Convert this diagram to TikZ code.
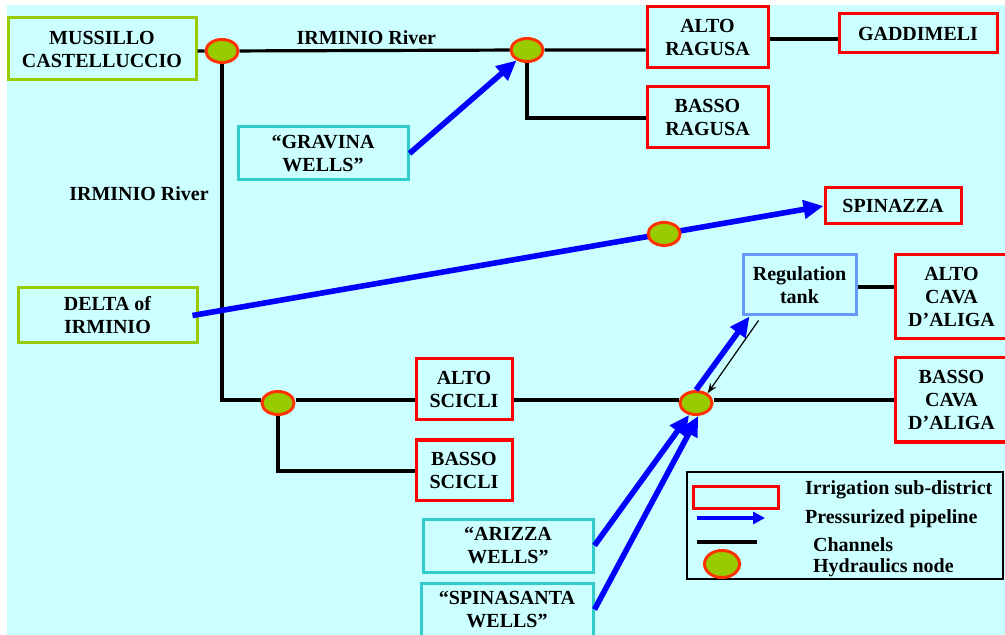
\documentclass[tikz,border=0pt]{standalone}
\usepackage{fontspec}
\setmainfont{Liberation Serif}
\usetikzlibrary{shapes.geometric,arrows.meta,calc}
\definecolor{bgcyan}{HTML}{CCFFFF}
\definecolor{lgreen}{HTML}{99CC00}
\definecolor{nodered}{HTML}{FF3300}
\definecolor{wellcyan}{HTML}{33CCCC}
\definecolor{tankblue}{HTML}{6699FF}

\begin{document}
\begin{tikzpicture}[x=0.5pt,y=-0.5pt,
	font=\fontsize{10}{11.5}\selectfont\bfseries,
	box/.style={draw, line width=1.5pt, inner sep=0pt, align=center},
	district/.style={box, draw=red},
	origin/.style={box, draw=lgreen},
	wells/.style={box, draw=wellcyan},
	hnode/.style={ellipse, draw=nodered, fill=lgreen, line width=1.5pt,
		inner sep=0pt, minimum width=16pt, minimum height=11.5pt},
	channel/.style={line width=1.6pt},
	pipe/.style={draw=blue, line width=2.8pt, -{Triangle[length=10pt,width=9pt]}}]
	% background
	\useasboundingbox (0,0) rectangle (1005,635);
	\fill[white] (0,0) rectangle (1005,635);
	\fill[bgcyan] (7,5) rectangle (1005,635);

	% sources
	\node[origin, minimum width=94pt, minimum height=31pt] (mussillo) at (102,49) {MUSSILLO\\CASTELLUCCIO};
	\node[origin, minimum width=89.5pt, minimum height=27.5pt] (delta) at (107.5,315.5) {DELTA of\\IRMINIO};
	\node[wells, minimum width=85pt, minimum height=26.5pt] (gravina) at (323,153.5) {``GRAVINA\\WELLS''};
	\node[wells, minimum width=85pt, minimum height=26.5pt] (arizza) at (508,545.5) {``ARIZZA\\WELLS''};
	\node[wells, minimum width=86pt, minimum height=26.5pt] (spinasanta) at (507,609.5) {``SPINASANTA\\WELLS''};

	% sub-districts
	\node[district, minimum width=60.5pt, minimum height=30.5pt] (altoragusa) at (707.5,37.5) {ALTO\\RAGUSA};
	\node[district, minimum width=60.5pt, minimum height=30.5pt] (bassoragusa) at (707.5,117.5) {BASSO\\RAGUSA};
	\node[district, minimum width=79pt, minimum height=19.5pt] (gaddimeli) at (918,33.5) {GADDIMELI};
	\node[district, minimum width=68pt, minimum height=18pt] (spinazza) at (893,206) {SPINAZZA};
	\node[district, minimum width=48pt, minimum height=30.5pt] (altoscicli) at (464,389.5) {ALTO\\SCICLI};
	\node[district, minimum width=48pt, minimum height=30pt] (bassoscicli) at (464,470) {BASSO\\SCICLI};
	\node[district, minimum width=56.5pt, minimum height=42pt] (altocava) at (951.5,297) {ALTO\\CAVA\\D'ALIGA};
	\node[district, minimum width=56.5pt, minimum height=42pt] (bassocava) at (951.5,400) {BASSO\\CAVA\\D'ALIGA};
	\node[box, draw=tankblue, minimum width=56.5pt, minimum height=30pt] (tank) at (799.5,285) {Regulation\\tank};

	% hydraulics nodes
	\node[hnode] (n1) at (222,51) {};
	\node[hnode] (n2) at (527,50) {};
	\node[hnode] (n3) at (278,403) {};
	\node[hnode] (n4) at (696,403) {};
	\coordinate (bend1) at (222,400);
	\coordinate (bend2) at (527,118);
	\coordinate (bend3) at (278,471);

	% channels
	\draw[channel] (mussillo.east |- n1) -- (n1) -- node[above=-1pt, pos=0.47] {IRMINIO River} (n2) -- (n2 -| altoragusa.west);
	\draw[channel] (n2) -- (bend2) -- (bend2 -| bassoragusa.west);
	\draw[channel] (altoragusa.east |- 0,39) -- (gaddimeli.west |- 0,39);
	\draw[channel] (n1) -- (bend1) -- (bend1 -| n3.west);
	\node (irminio) at (139,194) {IRMINIO River};
	\draw[channel] (n3.east |- bend1) -- (bend1 -| altoscicli.west);
	\draw[channel] (n3) -- (bend3) -- (bend3 -| bassoscicli.west);
	\draw[channel] (altoscicli.east |- bend1) -- (bend1 -| n4.west);
	\draw[channel] (n4.east |- bend1) -- (bend1 -| bassocava.west);
	\draw[channel] (tank.east |- 0,287) -- (altocava.west |- 0,287);

	% pipelines
	\draw[pipe] (gravina.east) -- (n2.225);
	\draw[pipe] ([xshift=-3pt]delta.east) -- (spinazza.west);
	\node[hnode] (n5) at ($(delta.east)!0.745!(spinazza.west)$) {};
	\draw[pipe] (n4.north) -- ($(tank.south west)+(8,0)$);
	\draw[-{Stealth[length=5pt]}, line width=0.6pt] ($(tank.south west)+(17,4)$) -- (n4.40);
	\draw[pipe] (arizza.east) -- (n4.240);
	\draw[pipe] (spinasanta.east) -- (n4.280);

	% legend
	\node[draw, line width=0.6pt, minimum width=158pt, minimum height=53.5pt] (legend) at (845,525.5) {};
	\node[district, minimum width=42.5pt, minimum height=11pt] (legsub) at (736,497) {};
	\coordinate (legpipe) at (697,518);
	\coordinate (legchan) at (697,542);
	\node[hnode, minimum width=17.5pt, minimum height=13.5pt] (legnode) at (722,564) {};
	\draw[draw=blue, line width=1.6pt, -{Triangle[length=6pt,width=6pt]}] (legpipe) -- ++(68,0);
	\draw[channel] (legchan) -- ++(60,0);
	\node[anchor=west] (legt1) at (798,490) {Irrigation sub-district};
	\node[anchor=west] (legt2) at (798,519) {Pressurized pipeline};
	\node[anchor=west] (legt3) at (806,545) {Channels};
	\node[anchor=west] (legt4) at (806,568) {Hydraulics node};
\end{tikzpicture}
\end{document}
